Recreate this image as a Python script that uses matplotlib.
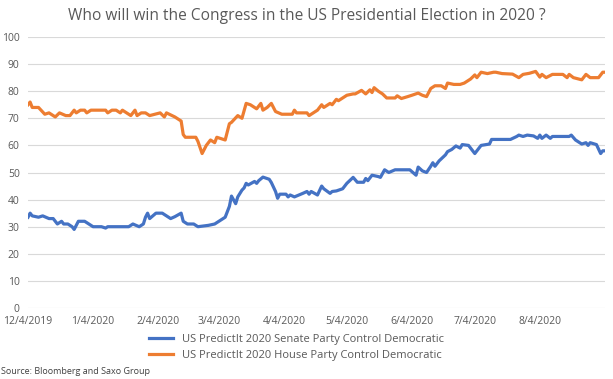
import pandas as pd
import matplotlib.pyplot as plt
import matplotlib.dates as mdates

plt.rcParams['font.family'] = ['Open Sans', 'DejaVu Sans']

start = pd.Timestamp('2019-12-04')

# days after 12/4/2019 and values
senate_days = [0, 1, 2, 5, 7, 10, 12, 13, 14, 16, 17, 19, 21, 22, 24, 27, 29, 31, 35, 37,
               38, 48, 50, 53, 55, 56, 57, 58, 61, 64, 66, 68, 70, 73, 74, 76, 79, 81, 86, 89,
               92, 94, 96, 97, 99, 100, 102, 103, 104, 105, 108, 109, 110, 112, 115, 116, 118, 119, 120, 123,
               124, 125, 127, 131, 133, 134, 135, 138, 140, 141, 144, 145, 147, 150, 152, 155, 157, 160, 161, 162,
               164, 167, 168, 170, 172, 175, 182, 185, 186, 188, 190, 192, 193, 194, 196, 199, 200, 202, 204, 206,
               207, 210, 213, 216, 220, 221, 230, 233, 234, 236, 238, 241, 243, 244, 245, 247, 249, 250, 258, 259,
               261, 264, 266, 267, 268, 271, 273, 274, 275]
senate = [33.5, 35, 34, 33.5, 34, 33, 33, 32, 31, 32, 31, 31, 30, 29, 32, 32, 31, 30, 30, 29.5,
          30, 30, 31, 30, 31, 33.5, 35, 33, 35, 35, 34, 33, 33.7, 35, 32, 31, 31, 30, 30.5, 31,
          32.5, 33.5, 37.5, 41.3, 38.5, 41, 43.5, 44.3, 46, 45.4, 46.7, 46, 47, 48.3, 47.5, 46.3, 43, 40.5, 42, 42,
          41, 41.7, 41, 42.3, 43, 42, 43, 41.7, 45, 44, 42.3, 43, 43.2, 44, 46, 48.2, 46.4, 46.4, 47.8, 47,
          49, 48.5, 48.2, 51, 50, 51, 51, 49, 52, 50.6, 50, 52.3, 53.6, 52.3, 54.3, 56.5, 57.7, 58.5, 59.8, 59,
          60.3, 60, 57, 60, 60.5, 62.2, 62.2, 63.3, 63.8, 63.3, 63.8, 63.5, 62.6, 63.8, 62.6, 63.8, 62.6, 63.3, 63.3, 63.8,
          62, 60.5, 61, 60, 61, 60.3, 57, 58, 58]

house_days = [0, 1, 2, 5, 8, 10, 12, 13, 15, 18, 20, 22, 23, 25, 27, 28, 30, 37, 38, 40,
              42, 44, 45, 46, 49, 51, 52, 54, 56, 58, 63, 65, 66, 70, 73, 74, 75, 80, 81, 83,
              85, 87, 89, 90, 94, 96, 97, 100, 102, 104, 106, 109, 111, 112, 114, 116, 118, 121, 126, 127,
              128, 133, 134, 138, 140, 141, 144, 145, 147, 148, 152, 155, 156, 159, 161, 163, 164, 165, 167, 169,
              171, 175, 176, 178, 181, 183, 186, 188, 190, 192, 194, 197, 199, 200, 203, 206, 208, 211, 213, 214,
              216, 219, 222, 223, 226, 231, 234, 236, 239, 242, 244, 245, 247, 250, 255, 257, 258, 260, 264, 266,
              268, 272, 274, 275]
house = [75, 76, 74, 74, 71.5, 72, 71, 70.5, 72, 71, 71, 73, 72, 73, 73, 72, 73, 73, 72, 73,
         73, 72, 73, 72.5, 71, 73, 71, 72, 72, 71, 72, 70.5, 72, 70.5, 69, 64, 63, 63, 61.5, 57,
         60, 62, 61, 63, 62, 68, 68.5, 71, 70, 75.5, 75, 73.5, 75.5, 73, 74, 75.5, 72.5, 71.5, 71.5, 73,
         72, 72, 71, 73, 75, 74, 75.5, 75, 77, 76.5, 78.5, 79, 79, 80.3, 79, 80.5, 79.5, 81.3, 80, 79,
         77.5, 77.5, 78.3, 77.3, 78, 78.5, 79.3, 78.5, 78, 81, 82, 82, 81, 83, 82.5, 82.5, 83, 84.5, 86, 85,
         87, 86.5, 87, 87, 86.5, 86.3, 85, 86.2, 86.6, 87.3, 85.2, 86.2, 85, 86.2, 86.2, 85, 86.2, 85, 84.2, 86.2,
         85, 85, 87, 87]

tick_dates = ['2019-12-04', '2020-01-04', '2020-02-04', '2020-03-04', '2020-04-04',
              '2020-05-04', '2020-06-04', '2020-07-04', '2020-08-04']
tick_labels = ['12/4/2019', '1/4/2020', '2/4/2020', '3/4/2020', '4/4/2020',
               '5/4/2020', '6/4/2020', '7/4/2020', '8/4/2020']

senate_dates = start + pd.to_timedelta(senate_days, unit='D')
house_dates = start + pd.to_timedelta(house_days, unit='D')

fig = plt.figure(figsize=(6.13, 3.79), dpi=100)
ax = fig.add_axes([0.0457, 0.1873, 0.941, 0.7151])

ax.plot(senate_dates, senate, color='#4472C4', lw=2.3,
        label='US PredictIt 2020 Senate Party Control Democratic')
ax.plot(house_dates, house, color='#ED7D31', lw=2.3,
        label='US PredictIt 2020 House Party Control Democratic')

ax.set_ylim(0, 100)
ax.set_yticks(range(0, 101, 10))
ax.set_xlim(start, start + pd.Timedelta(days=275))
ax.set_xticks(pd.to_datetime(tick_dates))
ax.set_xticklabels(tick_labels)
ax.grid(axis='y', color='#d9d9d9', lw=0.8)
ax.set_axisbelow(True)
for s in ax.spines.values():
    s.set_visible(False)
ax.tick_params(length=0, labelsize=7.5, colors='#595959')
ax.tick_params(axis='x', pad=6)
ax.tick_params(axis='y', pad=6)

fig.text(0.5, 0.958, 'Who will win the Congress in the US Presidential Election in 2020 ?',
         ha='center', va='center', fontsize=11.2, color='#595959')

fig.legend(loc='center', bbox_to_anchor=(0.484, 0.083), frameon=False, ncol=1,
           fontsize=8, labelcolor='#595959', handlelength=2.2, labelspacing=0.5)

fig.text(0.002, 0.021, 'Source: Bloomberg and Saxo Group', fontsize=6.5, color='#404040',
         ha='left', va='center')

fig.savefig('out.png', dpi=100)
